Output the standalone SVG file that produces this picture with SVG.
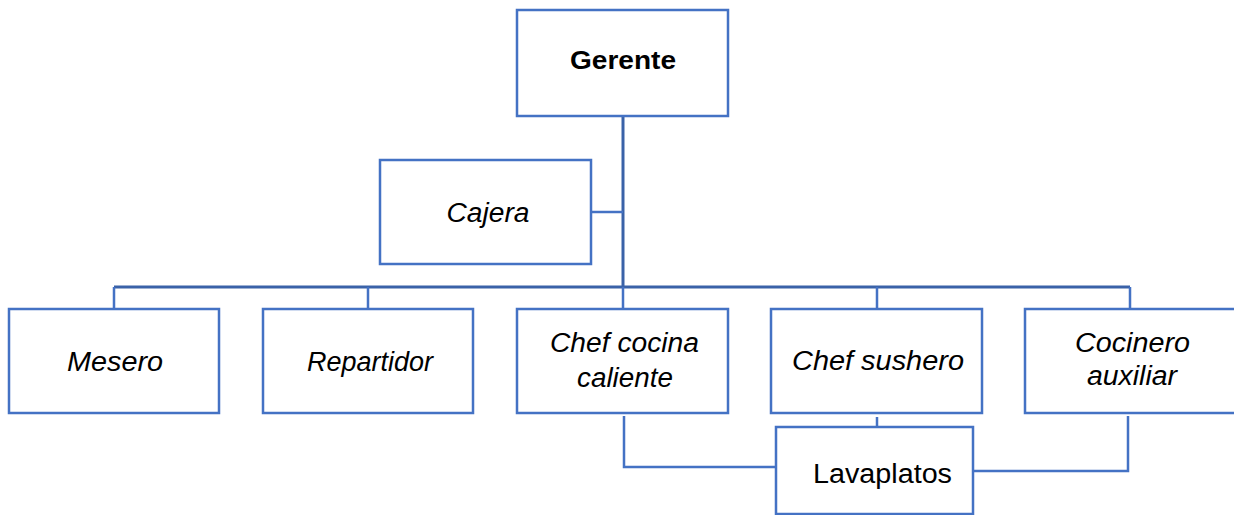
<svg xmlns="http://www.w3.org/2000/svg" width="1234" height="515" viewBox="0 0 1234 515">
  <style>
    .box { fill: #ffffff; stroke: #4472C4; stroke-width: 2.5; }
    .lbl { font-family: "Liberation Sans", Arial, sans-serif; font-size: 27px; fill: #000000; text-anchor: middle; }
    .it { font-style: italic; }
    .bd { font-weight: bold; font-size: 26px; }
    .wire { fill: none; stroke: #4472C4; stroke-width: 2.5; }
    .trunk { fill: none; stroke: #3A62A8; stroke-width: 3; }
  </style>

  <!-- connectors -->
  <g id="connectors">
    <path class="trunk" d="M623 116 V287"/>
    <path class="trunk" d="M114 287 H1130"/>
    <path class="wire" d="M591 212 H623"/>
    <path class="wire" d="M114 287 V309 M368 287 V309 M623 287 V309 M877 287 V309 M1130 287 V309"/>
    <path class="wire" d="M624 416 V467 H776"/>
    <path class="wire" d="M973 471 H1128 V416"/>
    <path class="wire" d="M877 417 V427"/>
  </g>

  <g id="gerente">
    <rect class="box" x="517" y="10" width="211" height="106"/>
    <text class="lbl bd" x="623" y="69" textLength="106" lengthAdjust="spacingAndGlyphs">Gerente</text>
  </g>

  <g id="cajera">
    <rect class="box" x="380" y="160" width="211" height="104"/>
    <text class="lbl it" x="488" y="222" textLength="83" lengthAdjust="spacingAndGlyphs">Cajera</text>
  </g>

  <g id="mesero">
    <rect class="box" x="9" y="309" width="210" height="104"/>
    <text class="lbl it" x="115" y="371" textLength="96" lengthAdjust="spacingAndGlyphs">Mesero</text>
  </g>

  <g id="repartidor">
    <rect class="box" x="263" y="309" width="210" height="104"/>
    <text class="lbl it" x="370" y="371" textLength="126" lengthAdjust="spacingAndGlyphs">Repartidor</text>
  </g>

  <g id="chef-cocina">
    <rect class="box" x="517" y="309" width="211" height="104"/>
    <text class="lbl it" x="624.5" y="352" textLength="149" lengthAdjust="spacingAndGlyphs">Chef cocina</text>
    <text class="lbl it" x="625" y="387" textLength="96" lengthAdjust="spacingAndGlyphs">caliente</text>
  </g>

  <g id="chef-sushero">
    <rect class="box" x="771" y="309" width="211" height="104"/>
    <text class="lbl it" x="878" y="370" textLength="172" lengthAdjust="spacingAndGlyphs">Chef sushero</text>
  </g>

  <g id="cocinero-auxiliar">
    <rect class="box" x="1025" y="309" width="212" height="104"/>
    <text class="lbl it" x="1132.5" y="352" textLength="115" lengthAdjust="spacingAndGlyphs">Cocinero</text>
    <text class="lbl it" x="1132" y="385" textLength="90" lengthAdjust="spacingAndGlyphs">auxiliar</text>
  </g>

  <g id="lavaplatos">
    <rect class="box" x="776" y="427" width="197" height="87"/>
    <text class="lbl" x="882.5" y="483" textLength="139" lengthAdjust="spacingAndGlyphs">Lavaplatos</text>
  </g>
</svg>
